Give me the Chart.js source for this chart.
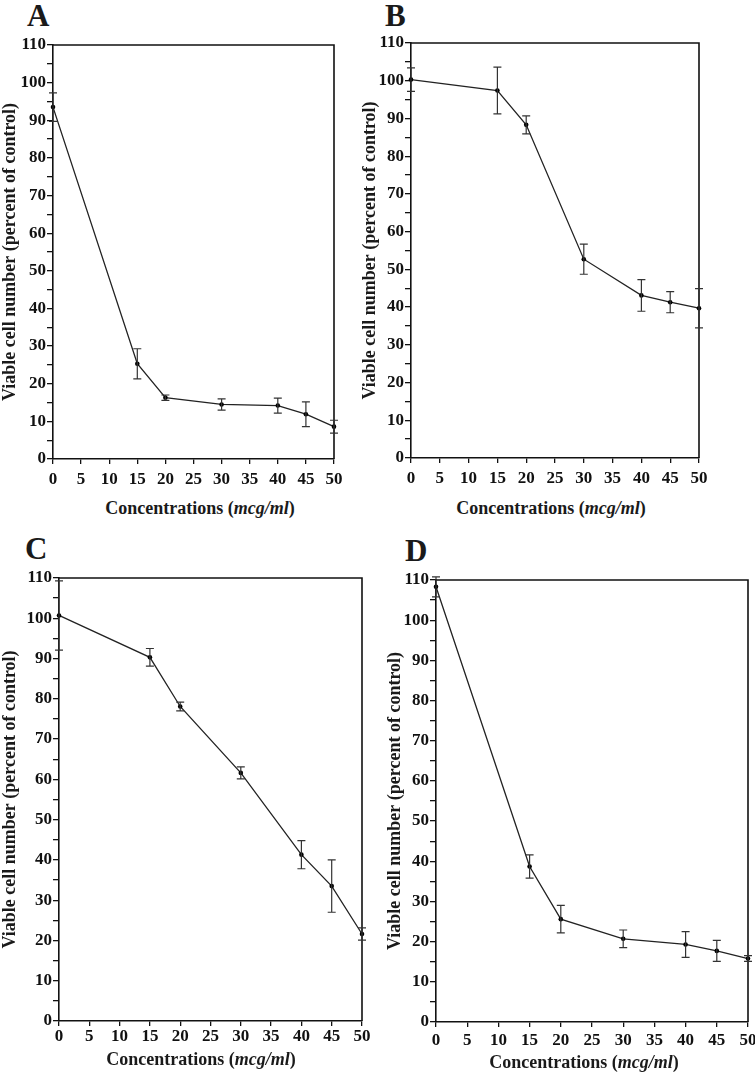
<!DOCTYPE html>
<html>
<head>
<meta charset="utf-8">
<script src="https://cdn.jsdelivr.net/npm/chart.js@4/dist/chart.umd.min.js"></script>
<style>
  html, body { margin: 0; padding: 0; background: #fff; overflow: hidden; }
  body { position: relative; width: 755px; height: 1072px; }
  canvas { position: absolute; }
  .letter, .xtitle {
    position: absolute;
    font-family: "Liberation Serif", "Times New Roman", serif;
    font-weight: bold;
    color: #1a1a1a;
    line-height: 1;
    white-space: nowrap;
  }
  .letter { font-size: 31px; }
  .xtitle { font-size: 18px; transform: translate(-50%, -50%); }
</style>
</head>
<body>
<div class="letter" style="left:27px;top:0px">A</div>
<div class="letter" style="left:385px;top:0px">B</div>
<div class="letter" style="left:25px;top:533px">C</div>
<div class="letter" style="left:405px;top:535px">D</div>

<canvas id="chartA" width="360" height="495" style="left:0;top:0"></canvas>
<canvas id="chartB" width="360" height="495" style="left:360px;top:0"></canvas>
<canvas id="chartC" width="385" height="525" style="left:0;top:530px"></canvas>
<canvas id="chartD" width="385" height="525" style="left:385px;top:530px"></canvas>

<div class="xtitle" style="left:200px;top:508px">Concentrations (<i>mcg/ml</i>)</div>
<div class="xtitle" style="left:551px;top:508px">Concentrations (<i>mcg/ml</i>)</div>
<div class="xtitle" style="left:201px;top:1059px">Concentrations (<i>mcg/ml</i>)</div>
<div class="xtitle" style="left:584px;top:1062px">Concentrations (<i>mcg/ml</i>)</div>

<script>
// Data (percent of control, mean and error)
const concentrations = [0, 15, 20, 30, 40, 45, 50];

const viableA = [93.5, 25.3, 16.3, 14.5, 14.2, 11.9, 8.6];
const errorA = [3.8, 4.0, 0.7, 1.5, 2.0, 3.3, 1.7];

const viableB = [100.3, 97.4, 88.3, 52.7, 43.1, 41.3, 39.7];
const errorB = [3.1, 6.2, 2.4, 4.0, 4.2, 2.8, 5.2];

const viableC = [100.7, 90.3, 78.1, 61.6, 41.3, 33.5, 21.6];
const errorC = [8.6, 2.2, 1.1, 1.5, 3.5, 6.5, 1.5];

const viableD = [108.3, 38.7, 25.6, 20.7, 19.3, 17.7, 15.8];
const errorD = [2.5, 2.9, 3.4, 2.2, 3.2, 2.6, 0.7];

// Axis ticks
const xTickStep = 5;
const yTickStep = 5;
const yLabelStep = 10;
const yMax = 110;
const xMax = 50;

const yTitle = "Viable cell number (percent of control)";
const serif = "'Liberation Serif', 'Times New Roman', serif";

// Error bars + top/right frame
const errorBars = {
  id: "errorBars",
  afterDatasetsDraw(chart, args, opts) {
    const { ctx, chartArea, scales } = chart;
    ctx.save();
    ctx.strokeStyle = "#111";
    ctx.lineWidth = 1.6;
    ctx.beginPath();
    ctx.moveTo(chartArea.left, chartArea.top);
    ctx.lineTo(chartArea.right, chartArea.top);
    ctx.lineTo(chartArea.right, chartArea.bottom);
    ctx.stroke();

    ctx.strokeStyle = "#333";
    ctx.lineWidth = 1.2;
    chart.data.datasets[0].data.forEach((p, i) => {
      const err = opts.errors[i];
      const px = scales.x.getPixelForValue(p.x);
      const top = scales.y.getPixelForValue(p.y + err);
      const bottom = scales.y.getPixelForValue(p.y - err);
      ctx.beginPath();
      ctx.moveTo(px, top);
      ctx.lineTo(px, bottom);
      ctx.moveTo(px - 4, top);
      ctx.lineTo(px + 4, top);
      ctx.moveTo(px - 4, bottom);
      ctx.lineTo(px + 4, bottom);
      ctx.stroke();
    });
    ctx.restore();
  }
};

function makePanel(id, values, errors, layout) {
  const ctx = document.getElementById(id).getContext("2d");
  return new Chart(ctx, {
    type: "line",
    data: {
      datasets: [
        {
          data: concentrations.map((c, i) => ({ x: c, y: values[i] })),
          borderColor: "#222",
          borderWidth: 1.3,
          pointRadius: 2.3,
          pointBackgroundColor: "#000",
          pointBorderColor: "#000",
          pointBorderWidth: 0,
          tension: 0,
          clip: false
        }
      ]
    },
    options: {
      responsive: false,
      animation: false,
      events: [],
      layout: {
        padding: { top: layout.padTop, right: layout.padRight, left: 0, bottom: 0 }
      },
      plugins: {
        legend: { display: false },
        tooltip: { enabled: false },
        errorBars: { errors: errors }
      },
      scales: {
        x: {
          type: "linear",
          min: 0,
          max: xMax,
          afterFit: (scale) => { scale.height = layout.xHeight; },
          ticks: {
            stepSize: xTickStep,
            autoSkip: false,
            maxRotation: 0,
            padding: layout.xPad,
            color: "#111",
            font: { family: serif, size: 17, weight: "bold" }
          },
          grid: { display: true, drawOnChartArea: false, drawTicks: true, tickLength: 5, color: "#111", lineWidth: 1.3 },
          border: { display: true, color: "#111", width: 1.6 }
        },
        y: {
          min: 0,
          max: yMax,
          afterFit: (scale) => { scale.width = layout.yWidth; },
          ticks: {
            stepSize: yTickStep,
            autoSkip: false,
            padding: 1,
            color: "#111",
            font: { family: serif, size: 17, weight: "bold" },
            callback: (v) => (v % yLabelStep === 0 ? v : "")
          },
          grid: { display: true, drawOnChartArea: false, drawTicks: true, tickLength: 6, color: "#111", lineWidth: 1.3 },
          border: { display: true, color: "#111", width: 1.6 },
          title: {
            display: true,
            text: yTitle,
            color: "#1a1a1a",
            padding: 0,
            font: { family: serif, size: 18, weight: "bold" }
          }
        }
      }
    },
    plugins: [errorBars]
  });
}

makePanel("chartA", viableA, errorA, { padTop: 45, padRight: 26, yWidth: 53, xHeight: 36, xPad: 5 });
makePanel("chartB", viableB, errorB, { padTop: 43, padRight: 21, yWidth: 51, xHeight: 37, xPad: 5 });
makePanel("chartC", viableC, errorC, { padTop: 48, padRight: 23, yWidth: 59, xHeight: 34, xPad: 0 });
makePanel("chartD", viableD, errorD, { padTop: 50, padRight: 22, yWidth: 51, xHeight: 33, xPad: 3 });
</script>
</body>
</html>
